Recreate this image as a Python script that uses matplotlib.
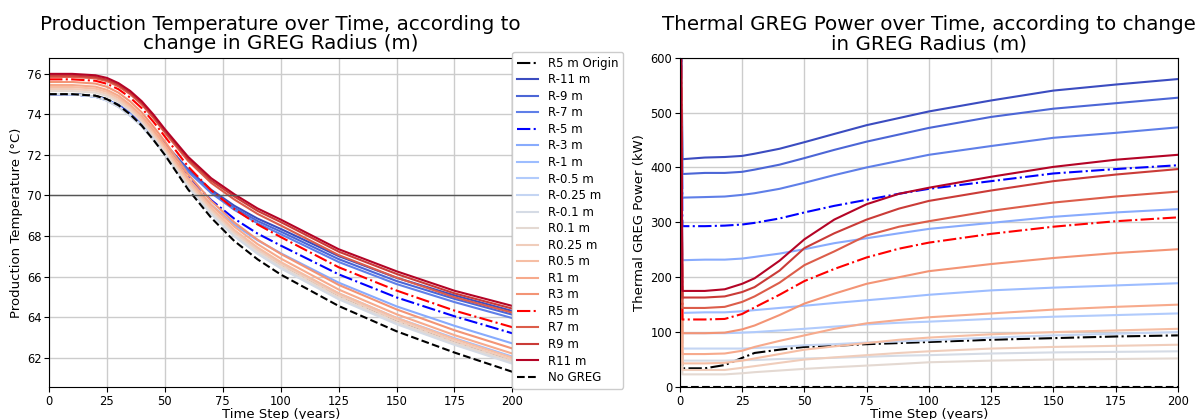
import numpy as np
import matplotlib
matplotlib.use("Agg")
import matplotlib.pyplot as plt

# ---------------- data ----------------
labels = ["R5 m Origin", "R-11 m", "R-9 m", "R-7 m", "R-5 m", "R-3 m", "R-1 m",
          "R-0.5 m", "R-0.25 m", "R-0.1 m", "R0.1 m", "R0.25 m", "R0.5 m",
          "R1 m", "R3 m", "R5 m", "R7 m", "R9 m", "R11 m", "No GREG"]

# Production temperature (°C)
t_temp = [0, 10, 20, 25, 30, 35, 40, 45, 50, 60, 70, 80, 90, 100, 125, 150, 175, 200]
temp_origin = [75.0, 75.0, 74.92, 74.76, 74.47, 74.03, 73.5, 72.83, 72.11, 70.48, 69.15, 68.06, 67.21, 66.51, 64.99, 63.78, 62.76, 61.84]
temp_rm11 = [75.0, 75.0, 74.88, 74.71, 74.45, 74.09, 73.67, 73.14, 72.56, 71.29, 70.28, 69.49, 68.86, 68.35, 67.01, 65.94, 65.07, 64.3]
temp_rm9 = [75.0, 75.0, 74.88, 74.71, 74.45, 74.08, 73.65, 73.11, 72.52, 71.23, 70.2, 69.39, 68.74, 68.22, 66.86, 65.78, 64.9, 64.12]
temp_rm7 = [75.0, 75.0, 74.88, 74.71, 74.44, 74.07, 73.64, 73.09, 72.49, 71.18, 70.12, 69.29, 68.63, 68.09, 66.72, 65.63, 64.74, 63.95]
temp_rm5 = [75.0, 75.0, 74.88, 74.7, 74.42, 74.02, 73.56, 72.98, 72.34, 70.93, 69.77, 68.85, 68.12, 67.53, 66.11, 64.97, 64.04, 63.2]
temp_rm3 = [75.0, 75.0, 74.88, 74.69, 74.4, 73.99, 73.51, 72.9, 72.24, 70.76, 69.54, 68.56, 67.79, 67.15, 65.7, 64.53, 63.57, 62.7]
temp_rm1 = [75.0, 75.0, 74.88, 74.69, 74.38, 73.96, 73.45, 72.8, 72.11, 70.55, 69.25, 68.19, 67.35, 66.66, 65.17, 63.96, 62.96, 62.05]
temp_rm05 = [75.0, 75.0, 74.88, 74.69, 74.38, 73.94, 73.42, 72.77, 72.06, 70.47, 69.13, 68.04, 67.19, 66.48, 64.96, 63.74, 62.72, 61.8]
temp_rm025 = [75.0, 75.0, 74.88, 74.68, 74.37, 73.94, 73.42, 72.76, 72.05, 70.45, 69.11, 68.01, 67.15, 66.44, 64.92, 63.7, 62.67, 61.75]
temp_rm01 = [75.0, 75.0, 74.88, 74.68, 74.37, 73.93, 73.41, 72.75, 72.04, 70.43, 69.08, 67.98, 67.12, 66.4, 64.88, 63.65, 62.63, 61.7]
temp_r01 = [75.15, 75.15, 75.07, 74.91, 74.61, 74.18, 73.63, 72.94, 72.19, 70.55, 69.2, 68.1, 67.24, 66.52, 64.98, 63.76, 62.72, 61.8]
temp_r025 = [75.25, 75.25, 75.17, 75.01, 74.71, 74.28, 73.73, 73.04, 72.29, 70.65, 69.3, 68.2, 67.34, 66.62, 65.08, 63.86, 62.82, 61.9]
temp_r05 = [75.35, 75.35, 75.27, 75.11, 74.81, 74.38, 73.83, 73.14, 72.39, 70.75, 69.4, 68.3, 67.44, 66.72, 65.18, 63.96, 62.92, 62.0]
temp_r1 = [75.45, 75.45, 75.37, 75.21, 74.92, 74.48, 73.94, 73.25, 72.5, 70.87, 69.54, 68.46, 67.6, 66.89, 65.36, 64.14, 63.11, 62.2]
temp_r3 = [75.6, 75.6, 75.52, 75.36, 75.07, 74.64, 74.1, 73.41, 72.67, 71.05, 69.73, 68.67, 67.82, 67.12, 65.59, 64.38, 63.35, 62.45]
temp_r5 = [75.73, 75.73, 75.66, 75.51, 75.24, 74.83, 74.31, 73.64, 72.91, 71.43, 70.25, 69.33, 68.57, 67.95, 66.46, 65.31, 64.32, 63.5]
temp_r7 = [75.85, 75.85, 75.78, 75.64, 75.38, 75.0, 74.49, 73.83, 73.1, 71.71, 70.62, 69.8, 69.09, 68.52, 67.06, 65.95, 64.98, 64.22]
temp_r9 = [75.92, 75.92, 75.85, 75.71, 75.46, 75.07, 74.57, 73.91, 73.18, 71.81, 70.74, 69.95, 69.24, 68.69, 67.23, 66.13, 65.17, 64.42]
temp_r11 = [76.0, 76.0, 75.93, 75.8, 75.54, 75.16, 74.65, 74.0, 73.27, 71.91, 70.85, 70.06, 69.36, 68.81, 67.35, 66.26, 65.3, 64.55]
temp_nogreg = [75.0, 75.0, 74.92, 74.75, 74.45, 74.0, 73.45, 72.75, 72.0, 70.3, 68.9, 67.75, 66.85, 66.1, 64.55, 63.3, 62.25, 61.3]

# Thermal GREG power (kW)
t_pow = [0, 1, 10, 18, 25, 30, 40, 50, 62, 75, 88, 100, 125, 150, 175, 200]
pow_origin = [1000, 34, 34, 40, 53, 62, 68, 73, 75, 78, 80, 82, 86, 89, 92, 94]
pow_rm11 = [1000, 415, 418, 419, 421, 425, 434, 446, 461, 477, 490, 502, 522, 540, 551, 561]
pow_rm9 = [1000, 388, 390, 390, 392, 396, 405, 417, 432, 447, 460, 472, 492, 507, 517, 527]
pow_rm7 = [1000, 345, 346, 347, 350, 353, 361, 372, 386, 400, 412, 423, 439, 454, 463, 473]
pow_rm5 = [1000, 293, 293, 294, 296, 299, 307, 318, 330, 341, 352, 361, 375, 389, 397, 404]
pow_rm3 = [1000, 231, 232, 232, 234, 237, 243, 251, 262, 271, 280, 288, 299, 310, 318, 324]
pow_rm1 = [1000, 135, 136, 136, 138, 140, 144, 148, 153, 158, 163, 168, 176, 181, 185, 189]
pow_rm05 = [1000, 98, 98, 98, 99, 100, 103, 106, 110, 114, 117, 119, 124, 128, 131, 134]
pow_rm025 = [1000, 70, 70, 70, 70, 71, 73, 76, 78, 81, 83, 85, 90, 94, 97, 100]
pow_rm01 = [1000, 48, 48, 48, 49, 49, 51, 52, 53, 55, 57, 58, 61, 63, 64, 65]
pow_r01 = [1000, 23, 23, 23, 25, 27, 30, 33, 36, 39, 42, 45, 48, 50, 51, 52]
pow_r025 = [1000, 31, 31, 31, 35, 38, 44, 50, 54, 58, 62, 65, 70, 73, 75, 77]
pow_r05 = [1000, 43, 43, 44, 48, 52, 60, 68, 74, 80, 86, 90, 96, 100, 103, 106]
pow_r1 = [1000, 60, 60, 61, 66, 73, 84, 94, 106, 116, 122, 127, 134, 141, 146, 150]
pow_r3 = [1000, 98, 98, 99, 105, 112, 131, 152, 170, 188, 200, 211, 224, 235, 244, 251]
pow_r5 = [1000, 123, 123, 124, 133, 145, 168, 193, 215, 236, 252, 263, 279, 292, 302, 309]
pow_r7 = [1000, 144, 144, 146, 155, 165, 190, 222, 247, 276, 292, 302, 321, 336, 347, 356]
pow_r9 = [1000, 163, 163, 165, 173, 182, 212, 253, 280, 305, 325, 339, 358, 375, 387, 397]
pow_r11 = [1000, 175, 175, 178, 188, 198, 230, 269, 305, 333, 352, 363, 383, 401, 414, 423]
pow_nogreg = [0, 0, 0, 0, 0, 0, 0, 0, 0, 0, 0, 0, 0, 0, 0, 0]

temps = [temp_origin, temp_rm11, temp_rm9, temp_rm7, temp_rm5, temp_rm3, temp_rm1,
         temp_rm05, temp_rm025, temp_rm01, temp_r01, temp_r025, temp_r05, temp_r1,
         temp_r3, temp_r5, temp_r7, temp_r9, temp_r11, temp_nogreg]
powers = [pow_origin, pow_rm11, pow_rm9, pow_rm7, pow_rm5, pow_rm3, pow_rm1,
          pow_rm05, pow_rm025, pow_rm01, pow_r01, pow_r025, pow_r05, pow_r1,
          pow_r3, pow_r5, pow_r7, pow_r9, pow_r11, pow_nogreg]

# ---------------- styles ----------------
cmap = plt.get_cmap("coolwarm")
n_rad = 18
styles = []
styles.append(dict(color="black", ls="-."))
for i in range(n_rad):
    lab = labels[i + 1]
    if lab == "R-5 m":
        styles.append(dict(color="blue", ls="-."))
    elif lab == "R5 m":
        styles.append(dict(color="red", ls="-."))
    else:
        styles.append(dict(color=cmap(i / (n_rad - 1)), ls="-"))
styles.append(dict(color="black", ls="--"))

fig = plt.figure(figsize=(11.97, 4.19), dpi=100)
ax1 = fig.add_axes([0.041, 0.0764, 0.387, 0.786])
ax2 = fig.add_axes([0.568, 0.0764, 0.416, 0.786])

for lab, y, st in zip(labels, temps, styles):
    ax1.plot(t_temp, y, color=st["color"], ls=st["ls"], lw=1.5, label=lab)
ax1.axhline(70, color="#555555", lw=1.0)
ax1.set_xlim(0, 200)
ax1.set_ylim(60.55, 76.8)
ax1.set_yticks([62, 64, 66, 68, 70, 72, 74, 76])
ax1.grid(True, color="#cccccc", lw=1.0)
ax1.set_axisbelow(True)
ax1.set_xlabel("Time Step (years)", fontsize=9.5, labelpad=0)
ax1.set_ylabel("Production Temperature (°C)", fontsize=9.5, labelpad=3)
ax1.set_title("Production Temperature over Time, according to\nchange in GREG Radius (m)",
              fontsize=14.3, pad=6, linespacing=1.05)
ax1.tick_params(labelsize=8.3, pad=2)
ax1.legend(loc="upper left", bbox_to_anchor=(1.0, 1.017), fontsize=8.5,
           handlelength=1.8, handletextpad=0.8, labelspacing=0.3,
           borderaxespad=0.0, framealpha=1.0, edgecolor="#cccccc", fancybox=True)

for lab, y, st in zip(labels, powers, styles):
    ax2.plot(t_pow, y, color=st["color"], ls=st["ls"], lw=1.5, label=lab)
ax2.set_xlim(0, 200)
ax2.set_ylim(0, 600)
ax2.set_yticks([0, 100, 200, 300, 400, 500, 600])
ax2.grid(True, color="#cccccc", lw=1.0)
ax2.set_axisbelow(True)
ax2.set_xlabel("Time Step (years)", fontsize=9.5, labelpad=0)
ax2.set_ylabel("Thermal GREG Power (kW)", fontsize=9.5, labelpad=3)
ax2.set_title("Thermal GREG Power over Time, according to change\nin GREG Radius (m)",
              fontsize=14.3, pad=6, linespacing=1.05)
ax2.tick_params(labelsize=8.3, pad=2)

fig.savefig("out.png", dpi=100)
